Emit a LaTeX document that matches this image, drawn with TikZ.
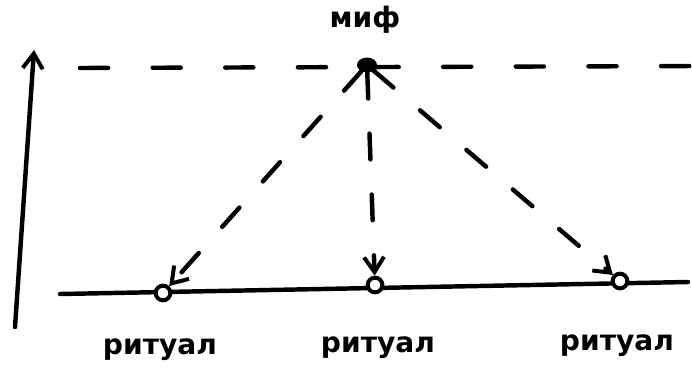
\documentclass[tikz,border=0pt]{standalone}
\usepackage{fontspec}
\setmainfont{DejaVu Sans}
\usetikzlibrary{arrows.meta,positioning,shapes.geometric}

\begin{document}
\begin{tikzpicture}[
  x=0.03cm,y=-0.03cm,
  >={Straight Barb[length=4.5mm,width=6mm,line width=3.4pt]},
  ink/.style={line width=3.8pt,line cap=round},
  level/.style={ink,dash pattern=on 24pt off 38pt},
  link/.style={ink,->,dash pattern=on 22pt off 30pt},
  rite/.style={circle,draw,line width=3.4pt,fill=white,inner sep=0pt,minimum size=4.4mm},
  label/.style={font=\bfseries\fontsize{24}{26}\selectfont,inner sep=0pt}
]
\useasboundingbox (0,0) rectangle (692,382);
% time axis
\coordinate (axisbot) at (15,327);
\coordinate (axistop) at (34,50);
\draw[ink,->] (axisbot) -- (axistop);
% level of myth
\coordinate (lvlL) at (80,68);
\coordinate (lvlR) at (692,66);
\draw[level] (lvlL) -- (lvlR);
\node[ellipse,fill,inner sep=0pt,minimum width=6mm,minimum height=4.5mm] (myth) at (367,65) {};
\node[label] (mythtxt) at (365,20) {миф};
% level of ritual
\coordinate (baseL) at (60,294);
\coordinate (baseR) at (688,282);
\draw[ink] (baseL) -- (baseR);
\node[rite] (r1) at (163,293) {};
\node[rite] (r2) at (375,285) {};
\node[rite,fill] (r3) at (620,281) {};
\node[label] (t1) at (160,350) {ритуал};
\node[label] (t2) at (378,348) {ритуал};
\node[label] (t3) at (617,346) {ритуал};
\draw[link] (myth) -- (r1);
\draw[link] (myth) -- (r2);
\draw[link] (myth) -- (r3);
\end{tikzpicture}
\end{document}
